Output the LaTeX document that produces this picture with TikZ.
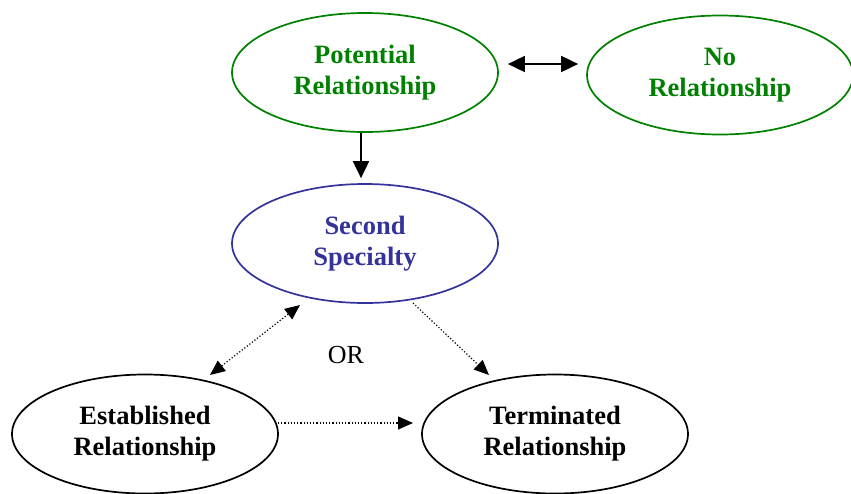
\documentclass[tikz,border=0pt]{standalone}
\usepackage{fontspec}
\setmainfont{Liberation Serif}
\usetikzlibrary{shapes.geometric,arrows.meta,calc}
\definecolor{stategreen}{RGB}{0,128,0}
\definecolor{stateblue}{RGB}{51,51,153}
\tikzset{
  bigtip/.tip={Triangle[length=17pt,width=16pt]},
  smalltip/.tip={Triangle[length=15pt,width=13pt]}
}
\begin{document}
\begin{tikzpicture}[x=1pt,y=-1pt,
  state/.style={ellipse,draw,line width=1.7pt,minimum width=266pt,minimum height=119pt,
    inner sep=0pt,align=center,font=\fontsize{26.5}{31}\selectfont\bfseries},
  solidline/.style={line width=1.8pt},
  dotline/.style={line width=1.2pt,dotted}
]
\useasboundingbox (0,0) rectangle (851,493);

% states
\node[state,draw=stategreen,text=stategreen] (pot) at (365,72.5) {Potential\\Relationship};
\node[state,draw=stategreen,text=stategreen] (none) at (720,75) {No\\Relationship};
\node[state,draw=stateblue,text=stateblue] (sec) at (365,243.5) {Second\\Specialty};
\node[state] (est) at (145,434) {Established\\Relationship};
\node[state] (term) at (555,434) {Terminated\\Relationship};

% label between the two outcomes
\node[font=\fontsize{26}{30}\selectfont] (or) at (346,355) {OR};

% connectors
\draw[solidline,bigtip-bigtip]
  ($(pot.east)+(9,-8.5)$) -- ($(none.west)+(-8,-11)$);
\draw[solidline,-bigtip] ($(pot.south)+(-4,0)$) -- ($(sec.north)+(-4,-5)$);
\draw[dotline,smalltip-smalltip]
  ($(est.center)+(65,-59)$) -- ($(sec.center)+(-65,61.5)$);
\draw[dotline,-smalltip] ($(sec.center)+(48,59.5)$) -- ($(term.center)+(-66,-59)$);
\draw[dotline,-smalltip] ($(est.center)+(133,-11)$) -- ($(term.center)+(-142,-11)$);
\end{tikzpicture}
\end{document}
